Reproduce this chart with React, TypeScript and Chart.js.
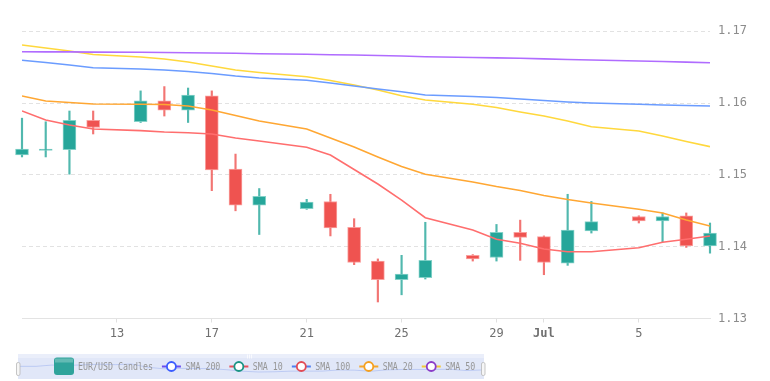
import React, { useEffect, useRef } from 'react';
import { Chart, registerables } from 'chart.js';

Chart.register(...registerables);

// Day index: 0 = Jun 9 ... 22 = Jul 1 ... 29 = Jul 8
const candleDays = [0, 1, 2, 3, 5, 6, 7, 8, 9, 10, 12, 13, 14, 15, 16, 17, 19, 20, 21, 22, 23, 24, 26, 27, 28, 29];
const opens = [1.1528, 1.1534, 1.1535, 1.1576, 1.1574, 1.1603, 1.1590, 1.1610, 1.1508, 1.1458, 1.1453, 1.1463, 1.1427, 1.1380, 1.1354, 1.1357, 1.1388, 1.1385, 1.1420, 1.1414, 1.1377, 1.1422, 1.1442, 1.1436, 1.1443, 1.1401];
const highs = [1.1579, 1.1574, 1.1589, 1.1589, 1.1617, 1.1623, 1.1621, 1.1617, 1.1529, 1.1481, 1.1466, 1.1473, 1.1439, 1.1383, 1.1388, 1.1434, 1.1389, 1.1431, 1.1437, 1.1415, 1.1473, 1.1463, 1.1443, 1.1447, 1.1447, 1.1433];
const lows = [1.1525, 1.1525, 1.1501, 1.1557, 1.1573, 1.1582, 1.1573, 1.1478, 1.1450, 1.1417, 1.1452, 1.1415, 1.1375, 1.1323, 1.1333, 1.1355, 1.1380, 1.1380, 1.1381, 1.1361, 1.1374, 1.1419, 1.1433, 1.1407, 1.1399, 1.1391];
const closes = [1.1536, 1.1536, 1.1576, 1.1566, 1.1603, 1.1590, 1.1611, 1.1507, 1.1458, 1.1470, 1.1462, 1.1426, 1.1378, 1.1354, 1.1362, 1.1381, 1.1383, 1.1420, 1.1413, 1.1378, 1.1423, 1.1435, 1.1436, 1.1442, 1.1401, 1.1419];

const sma200 = [1.16716, 1.16714, 1.16713, 1.16710, 1.16708, 1.16705, 1.16702, 1.16698, 1.16694, 1.16688, 1.16680, 1.16674, 1.16669, 1.16662, 1.16655, 1.16646, 1.16635, 1.16630, 1.16624, 1.16616, 1.16607, 1.16600, 1.16586, 1.16579, 1.16571, 1.16563];
const sma100 = [1.16596, 1.16565, 1.16531, 1.16493, 1.16475, 1.16461, 1.16440, 1.16412, 1.16377, 1.16350, 1.16318, 1.16280, 1.16238, 1.16196, 1.16159, 1.16113, 1.16092, 1.16078, 1.16057, 1.16036, 1.16015, 1.16001, 1.15983, 1.15974, 1.15967, 1.15960];
const sma50 = [1.16809, 1.16767, 1.16726, 1.16677, 1.16642, 1.16614, 1.16572, 1.16517, 1.16461, 1.16426, 1.16368, 1.16315, 1.16252, 1.16182, 1.16103, 1.16043, 1.15983, 1.15939, 1.15876, 1.15820, 1.15751, 1.15671, 1.15611, 1.15542, 1.15465, 1.15393];
const sma20 = [1.16099, 1.16029, 1.16008, 1.15987, 1.15983, 1.15980, 1.15960, 1.15904, 1.15827, 1.15750, 1.15640, 1.15514, 1.15389, 1.15249, 1.15117, 1.15008, 1.14901, 1.14838, 1.14783, 1.14713, 1.14657, 1.14609, 1.14521, 1.14469, 1.14372, 1.14288];
const sma10 = [1.15890, 1.15765, 1.15695, 1.15639, 1.15616, 1.15597, 1.15588, 1.15570, 1.15514, 1.15472, 1.15384, 1.15277, 1.15075, 1.14873, 1.14650, 1.14404, 1.14233, 1.14103, 1.14047, 1.13968, 1.13930, 1.13930, 1.13986, 1.14061, 1.14103, 1.14149];

const xTickDays = [4, 8, 12, 16, 20, 22, 26];
const xTickLabels = ['13', '17', '21', '25', '29', 'Jul', '5'];
const yTicks = [1.13, 1.14, 1.15, 1.16, 1.17];

const seriesNames = ['EUR/USD Candles', 'SMA 200', 'SMA 10', 'SMA 100', 'SMA 20', 'SMA 50'];

const UP = '#26a69a';
const DOWN = '#ef5350';
const C200 = '#b06cff';
const C100 = '#6b9cff';
const C50 = '#ffd83d';
const C20 = '#ffa733';
const C10 = '#ff6e6e';

const legendLineColors = ['#6a4ff0', '#e8505a', '#4f7ef0', '#f5a62a', '#f2c93a'];
const legendCircleColors = ['#3a5cff', '#1a9484', '#e24a55', '#f5a020', '#8a3cc8'];

const navLegend = {
  id: 'navLegend',
  afterDraw(chart: any) {
    const ctx = chart.ctx as CanvasRenderingContext2D;
    ctx.save();
    const bx = 18, by = 354, bw = 466, bh = 25;
    ctx.fillStyle = '#e1e7f8';
    ctx.fillRect(bx, by, bw, bh);
    ctx.fillStyle = 'rgba(255,255,255,0.3)';
    ctx.fillRect(bx, by, bw, 4);
    // navigator series from closes
    const cmin = Math.min(...closes), cmax = Math.max(...closes);
    ctx.beginPath();
    candleDays.forEach((d, i) => {
      const x = bx + 2 + (d / 29) * (bw - 4);
      const y = by + 18 - ((closes[i] - cmin) / (cmax - cmin)) * 8;
      if (i === 0) ctx.moveTo(x, y); else ctx.lineTo(x, y);
    });
    ctx.strokeStyle = 'rgba(120,150,235,0.35)';
    ctx.lineWidth = 1;
    ctx.stroke();
    // handles
    const handle = (x: number) => {
      ctx.beginPath();
      ctx.roundRect(x, 362.5, 3.5, 13, 1.5);
      ctx.fillStyle = '#f6f6f6';
      ctx.fill();
      ctx.strokeStyle = '#b8b8b8';
      ctx.lineWidth = 0.8;
      ctx.stroke();
    };
    handle(16.5);
    handle(481.5);
    // grip
    ctx.strokeStyle = 'rgba(255,255,255,0.9)';
    ctx.lineWidth = 0.8;
    [247.5, 249.5, 251.5].forEach((gx) => {
      ctx.beginPath();
      ctx.moveTo(gx, 354.5);
      ctx.lineTo(gx, 358.5);
      ctx.stroke();
    });

    // items
    const textY = 369.5;
    const sx = 0.79;
    ctx.font = '10.5px "DejaVu Sans Mono"';
    ctx.textBaseline = 'alphabetic';
    ctx.textAlign = 'left';
    let x = 54;
    // candle icon
    ctx.beginPath();
    ctx.roundRect(x, 357.5, 20, 17.5, 3);
    ctx.fillStyle = '#2fa39b';
    ctx.fill();
    ctx.fillStyle = 'rgba(255,255,255,0.25)';
    ctx.fillRect(x + 1, 358.5, 18, 4);
    x += 24;
    const drawText = (t: string) => {
      ctx.save();
      ctx.translate(x, textY);
      ctx.scale(sx, 1);
      ctx.fillStyle = '#969696';
      ctx.fillText(t, 0, 0);
      ctx.restore();
      x += ctx.measureText(t).width * sx;
    };
    drawText(seriesNames[0]);
    for (let i = 1; i < seriesNames.length; i++) {
      x += 9;
      ctx.strokeStyle = legendLineColors[i - 1];
      ctx.lineWidth = 2;
      ctx.beginPath();
      ctx.moveTo(x, 366.5);
      ctx.lineTo(x + 19, 366.5);
      ctx.stroke();
      ctx.beginPath();
      ctx.arc(x + 9.5, 366.5, 4.5, 0, Math.PI * 2);
      ctx.fillStyle = '#ffffff';
      ctx.fill();
      ctx.strokeStyle = legendCircleColors[i - 1];
      ctx.lineWidth = 1.8;
      ctx.stroke();
      x += 23.5;
      drawText(seriesNames[i]);
    }
    ctx.restore();
  },
};

export default function App() {
  const ref = useRef<HTMLCanvasElement>(null);
  useEffect(() => {
    document.body.style.margin = '0';
    const canvas = ref.current!;
    const upDown = (i: number, up: string, down: string) => (closes[i] >= opens[i] ? up : down);
    const lineDs = (label: string, vals: number[], color: string) => ({
      type: 'line' as const,
      label,
      data: candleDays.map((d, i) => ({ x: d, y: vals[i] })),
      borderColor: color,
      borderWidth: 1.6,
      pointRadius: 0,
      tension: 0,
      fill: false,
      order: 0,
    });
    const chart = new Chart(canvas, {
      type: 'bar',
      data: {
        datasets: [
          {
            type: 'bar',
            label: seriesNames[0] + ' wicks',
            data: candleDays.map((d, i) => ({ x: d, y: [lows[i], highs[i]] })) as any,
            backgroundColor: (c: any) => upDown(c.dataIndex, 'rgba(38,166,154,0.8)', 'rgba(239,83,80,0.8)'),
            barThickness: 1.5,
            grouped: false,
            borderWidth: 0,
            clip: false as any,
            order: 2,
          } as any,
          {
            type: 'bar',
            label: seriesNames[0],
            data: candleDays.map((d, i) => ({ x: d, y: [opens[i], closes[i]] })) as any,
            backgroundColor: (c: any) => upDown(c.dataIndex, UP, DOWN),
            borderColor: (c: any) => upDown(c.dataIndex, 'rgba(120,205,195,0.9)', 'rgba(250,150,148,0.9)'),
            borderWidth: 1,
            borderSkipped: false,
            barThickness: 13,
            grouped: false,
            clip: false as any,
            order: 1,
          } as any,
          lineDs(seriesNames[1], sma200, C200),
          lineDs(seriesNames[2], sma10, C10),
          lineDs(seriesNames[3], sma100, C100),
          lineDs(seriesNames[4], sma20, C20),
          lineDs(seriesNames[5], sma50, C50),
        ],
      },
      options: {
        responsive: false,
        animation: false,
        layout: { padding: { left: 22, top: 31.3, right: 0, bottom: 0 } },
        plugins: { legend: { display: false }, tooltip: { enabled: false } },
        scales: {
          x: {
            type: 'linear',
            min: 0,
            max: 29,
            offset: false,
            afterFit: (s: any) => { s.height = 62.5; },
            afterBuildTicks: (s: any) => { s.ticks = xTickDays.map((v) => ({ value: v })); },
            grid: { offset: false, drawOnChartArea: false, drawTicks: true, tickLength: 4, color: '#e0e0e0' },
            border: { display: true, color: '#e3e3e3' },
            ticks: {
              padding: 4,
              maxRotation: 0,
              autoSkip: false,
              color: '#6f6f6f',
              font: (c: any) => ({
                family: '"DejaVu Sans Mono"',
                size: 12,
                weight: c.tick && xTickLabels[xTickDays.indexOf(c.tick.value)] === 'Jul' ? 'bold' : 'normal',
              }),
              callback: (v: any) => {
                const k = xTickDays.indexOf(Number(v));
                return k >= 0 ? xTickLabels[k] : '';
              },
            },
          },
          y: {
            position: 'right',
            min: 1.13,
            max: 1.17,
            afterFit: (s: any) => { s.width = 60; },
            afterBuildTicks: (s: any) => { s.ticks = yTicks.map((v) => ({ value: v })); },
            grid: { color: '#e2e2e2', drawTicks: false, lineWidth: 1 },
            border: { display: false, dash: [4, 3] },
            ticks: {
              padding: 8,
              color: '#8c8c8c',
              font: { family: '"DejaVu Sans Mono"', size: 12 },
              callback: (v: any) => Number(v).toFixed(2),
            },
          } as any,
        },
      },
      plugins: [navLegend],
    });
    return () => chart.destroy();
  }, []);
  return (
    <div style={{ width: 770, height: 381, background: '#ffffff' }}>
      <canvas ref={ref} width={770} height={381} style={{ display: 'block' }} />
    </div>
  );
}
